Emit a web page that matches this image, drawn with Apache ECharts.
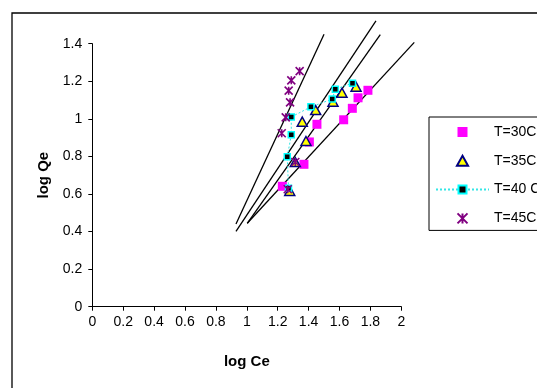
<!DOCTYPE html>
<html>
<head>
<meta charset="utf-8">
<script src="https://cdn.jsdelivr.net/npm/echarts@6/dist/echarts.min.js"></script>
<style>html,body{margin:0;padding:0;background:#fff}#c{width:537px;height:388px}</style>
</head>
<body>
<div id="c"></div>
<script>
// Data: [log Ce, log Qe]
const t30 = [[1.230,0.641],[1.370,0.758],[1.405,0.877],[1.454,0.971],[1.627,0.995],[1.683,1.056],[1.720,1.112],[1.784,1.152]];
const t35 = [[1.278,0.616],[1.314,0.770],[1.383,0.882],[1.359,0.985],[1.446,1.047],[1.558,1.091],[1.616,1.139],[1.707,1.171]];
const t40 = [[1.270,0.630],[1.262,0.798],[1.288,0.915],[1.288,1.010],[1.415,1.064],[1.553,1.105],[1.573,1.158],[1.684,1.190]];
const t45 = [[1.265,0.625],[1.314,0.770],[1.226,0.923],[1.252,1.008],[1.280,1.088],[1.271,1.150],[1.288,1.205],[1.342,1.254]];
// Linear trend lines (end points)
const trendA = [[0.930,0.440],[1.500,1.450]];
const trendB = [[0.930,0.401],[1.836,1.522]];
const trendC = [[1.003,0.444],[1.864,1.448]];
const trendD = [[1.003,0.444],[2.084,1.407]];
const seriesNames = ['T=30C','T=35C','T=40 C','T=45C'];
const xTicks = [0,2,0.2];
const yTicks = [0,1.4,0.2];

const font = "'Liberation Sans', Arial, sans-serif";
const SQUARE = 'path://M0,0L10,0L10,10L0,10Z';
const TRIANGLE = 'path://M5,0L10,9L0,9Z';
const STAR = 'path://M0,0L10,10M10,0L0,10M5,0L5,10';
const chart = echarts.init(document.getElementById('c'));
chart.setOption({
  animation:false,
  backgroundColor:'#fff',
  textStyle:{fontFamily:font, color:'#000'},
  graphic:[{type:'rect', shape:{x:12,y:13,width:600,height:420}, style:{fill:'none', stroke:'#000', lineWidth:1.3}, z:-1}],
  grid:{left:92.3, right:135.7, top:43.7, bottom:81.3, containLabel:false},
  xAxis:{type:'value', min:xTicks[0], max:xTicks[1], interval:xTicks[2],
    name:'log Ce', nameLocation:'middle', nameGap:48,
    nameTextStyle:{fontSize:15, fontWeight:'bold', color:'#000', fontFamily:font},
    axisLine:{onZero:false, lineStyle:{color:'#000', width:1}},
    axisTick:{show:true, length:4, lineStyle:{color:'#000'}},
    axisLabel:{fontSize:14, color:'#000', margin:8, fontFamily:font,
      formatter:v=>String(+v.toFixed(1))},
    splitLine:{show:false}},
  yAxis:{type:'value', min:yTicks[0], max:yTicks[1], interval:yTicks[2],
    name:'log Qe', nameLocation:'middle', nameGap:41, nameRotate:90,
    nameTextStyle:{fontSize:15, fontWeight:'bold', color:'#000', fontFamily:font},
    axisLine:{show:true, onZero:false, lineStyle:{color:'#000', width:1}},
    axisTick:{show:true, length:4, lineStyle:{color:'#000'}},
    axisLabel:{fontSize:14, color:'#000', margin:10, fontFamily:font,
      formatter:v=>String(+v.toFixed(1))},
    splitLine:{show:false}},
  legend:{orient:'vertical', left:429, top:117,
    data:[{name:seriesNames[0], icon:SQUARE},{name:seriesNames[1], icon:TRIANGLE},
          {name:seriesNames[2]},{name:seriesNames[3], icon:STAR}],
    itemWidth:53, itemHeight:10, itemGap:14.8, symbolKeepAspect:true,
    padding:[8,40,5,6], borderColor:'#000', borderWidth:1,
    textStyle:{fontSize:14, color:'#000', fontFamily:font, padding:[0,0,0,0]}},
  series:[
    {type:'lines', coordinateSystem:'cartesian2d', clip:false, silent:true, z:1,
      polyline:false,
      data:[{coords:trendA},{coords:trendB},{coords:trendC},{coords:trendD}],
      lineStyle:{color:'#000', width:1.3, opacity:1}},
    {name:seriesNames[0], type:'scatter', data:t30, symbol:SQUARE, symbolSize:9, symbolKeepAspect:true,
      itemStyle:{color:'#FF00FF', opacity:1}, z:3},
    {name:seriesNames[1], type:'scatter', data:t35, symbol:TRIANGLE, symbolSize:10, symbolKeepAspect:true,
      itemStyle:{color:'#FFFF00', borderColor:'#000080', borderWidth:1.5, opacity:1}, z:4},
    {name:seriesNames[2], type:'line', data:t40, symbol:'rect', symbolSize:6, showSymbol:true,
      lineStyle:{color:'#33E6E6', width:1, type:[2,2]},
      itemStyle:{color:'#000', borderColor:'#00FFFF', borderWidth:1.5}, z:5},
    {name:seriesNames[3], type:'scatter', data:t45, symbolKeepAspect:true,
      symbol:STAR, symbolSize:8,
      itemStyle:{color:'rgba(0,0,0,0)', borderColor:'#800080', borderWidth:1.6, opacity:1}, z:6}
  ]
});
</script>
</body>
</html>
